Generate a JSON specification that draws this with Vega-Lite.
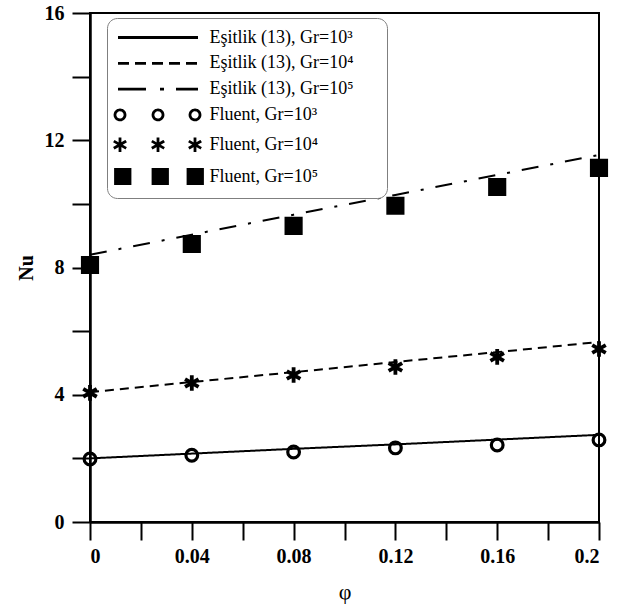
{
  "$schema": "https://vega.github.io/schema/vega-lite/v6.json",
  "width": 509,
  "height": 509,
  "autosize": {"type": "none"},
  "padding": {"left": 90, "top": 13, "right": 24, "bottom": 83},
  "background": "white",
  "config": {
    "view": {"stroke": "black", "strokeWidth": 2},
    "font": "Liberation Serif"
  },
  "datasets": {
    "lines": [
      {"phi": 0, "Nu": 2.0, "series": "Eşitlik (13), Gr=10³"},
      {"phi": 0.04, "Nu": 2.15, "series": "Eşitlik (13), Gr=10³"},
      {"phi": 0.08, "Nu": 2.3, "series": "Eşitlik (13), Gr=10³"},
      {"phi": 0.12, "Nu": 2.44, "series": "Eşitlik (13), Gr=10³"},
      {"phi": 0.16, "Nu": 2.59, "series": "Eşitlik (13), Gr=10³"},
      {"phi": 0.2, "Nu": 2.74, "series": "Eşitlik (13), Gr=10³"},
      {"phi": 0, "Nu": 4.08, "series": "Eşitlik (13), Gr=10⁴"},
      {"phi": 0.04, "Nu": 4.4, "series": "Eşitlik (13), Gr=10⁴"},
      {"phi": 0.08, "Nu": 4.71, "series": "Eşitlik (13), Gr=10⁴"},
      {"phi": 0.12, "Nu": 5.03, "series": "Eşitlik (13), Gr=10⁴"},
      {"phi": 0.16, "Nu": 5.34, "series": "Eşitlik (13), Gr=10⁴"},
      {"phi": 0.2, "Nu": 5.66, "series": "Eşitlik (13), Gr=10⁴"},
      {"phi": 0, "Nu": 8.4, "series": "Eşitlik (13), Gr=10⁵"},
      {"phi": 0.04, "Nu": 9.03, "series": "Eşitlik (13), Gr=10⁵"},
      {"phi": 0.08, "Nu": 9.66, "series": "Eşitlik (13), Gr=10⁵"},
      {"phi": 0.12, "Nu": 10.28, "series": "Eşitlik (13), Gr=10⁵"},
      {"phi": 0.16, "Nu": 10.91, "series": "Eşitlik (13), Gr=10⁵"},
      {"phi": 0.2, "Nu": 11.54, "series": "Eşitlik (13), Gr=10⁵"}
    ],
    "points": [
      {"phi": 0, "Nu": 1.98, "series": "Fluent, Gr=10³"},
      {"phi": 0.04, "Nu": 2.1, "series": "Fluent, Gr=10³"},
      {"phi": 0.08, "Nu": 2.2, "series": "Fluent, Gr=10³"},
      {"phi": 0.12, "Nu": 2.33, "series": "Fluent, Gr=10³"},
      {"phi": 0.16, "Nu": 2.42, "series": "Fluent, Gr=10³"},
      {"phi": 0.2, "Nu": 2.58, "series": "Fluent, Gr=10³"},
      {"phi": 0, "Nu": 4.06, "series": "Fluent, Gr=10⁴"},
      {"phi": 0.04, "Nu": 4.37, "series": "Fluent, Gr=10⁴"},
      {"phi": 0.08, "Nu": 4.62, "series": "Fluent, Gr=10⁴"},
      {"phi": 0.12, "Nu": 4.87, "series": "Fluent, Gr=10⁴"},
      {"phi": 0.16, "Nu": 5.19, "series": "Fluent, Gr=10⁴"},
      {"phi": 0.2, "Nu": 5.44, "series": "Fluent, Gr=10⁴"},
      {"phi": 0, "Nu": 8.08, "series": "Fluent, Gr=10⁵"},
      {"phi": 0.04, "Nu": 8.74, "series": "Fluent, Gr=10⁵"},
      {"phi": 0.08, "Nu": 9.31, "series": "Fluent, Gr=10⁵"},
      {"phi": 0.12, "Nu": 9.94, "series": "Fluent, Gr=10⁵"},
      {"phi": 0.16, "Nu": 10.53, "series": "Fluent, Gr=10⁵"},
      {"phi": 0.2, "Nu": 11.13, "series": "Fluent, Gr=10⁵"}
    ]
  },
  "encoding": {
    "x": {
      "field": "phi",
      "type": "quantitative",
      "scale": {"domain": [0, 0.2], "nice": false, "zero": false},
      "axis": {
        "title": "φ",
        "values": [0, 0.02, 0.04, 0.06, 0.08, 0.1, 0.12, 0.14, 0.16, 0.18, 0.2],
        "labelExpr": "round(datum.value*50) % 2 === 0 ? format(datum.value, '.2~f') : ''",
        "labelOverlap": false,
        "grid": false,
        "domainColor": "black",
        "domainWidth": 2.5,
        "tickColor": "black",
        "tickWidth": 2,
        "tickSize": 18,
        "labelFont": "Liberation Serif",
        "labelFontWeight": "bold",
        "labelFontSize": 20,
        "labelColor": "black",
        "labelPadding": 6,
        "titleFont": "Liberation Serif",
        "titleFontWeight": "normal",
        "titleFontSize": 22,
        "titleColor": "black",
        "titlePadding": 15,
        "encode": {
          "ticks": {
            "y2": {"condition": {"test": "round(datum.value*50) % 2 === 0", "value": 18}, "value": 9}
          }
        }
      }
    },
    "y": {
      "field": "Nu",
      "type": "quantitative",
      "scale": {"domain": [0, 16], "nice": false, "zero": false},
      "axis": {
        "title": "Nu",
        "values": [0, 2, 4, 6, 8, 10, 12, 14, 16],
        "labelExpr": "datum.value % 4 === 0 ? datum.label : ''",
        "labelOverlap": false,
        "grid": false,
        "domainColor": "black",
        "domainWidth": 2.5,
        "tickColor": "black",
        "tickWidth": 2,
        "tickSize": 18,
        "labelFont": "Liberation Serif",
        "labelFontWeight": "bold",
        "labelFontSize": 20,
        "labelColor": "black",
        "labelPadding": 8,
        "titleFont": "Liberation Serif",
        "titleFontWeight": "bold",
        "titleFontSize": 20,
        "titleColor": "black",
        "titlePadding": 8,
        "encode": {
          "ticks": {
            "x2": {"condition": {"test": "datum.value % 4 === 0", "value": -18}, "value": -9}
          }
        }
      }
    }
  },
  "resolve": {"scale": {"shape": "independent", "fill": "independent", "strokeDash": "independent"}},
  "layer": [
    {
      "data": {"name": "lines"},
      "mark": {"type": "line", "color": "black", "strokeWidth": 2},
      "encoding": {
        "strokeDash": {
          "field": "series",
          "type": "nominal",
          "scale": {
            "domain": ["Eşitlik (13), Gr=10³", "Eşitlik (13), Gr=10⁴", "Eşitlik (13), Gr=10⁵"],
            "range": [[1, 0], [9, 6], [17, 12, 3, 12]]
          },
          "legend": null
        }
      }
    },
    {
      "data": {"name": "points"},
      "mark": {"type": "point", "size": 169, "opacity": 1, "stroke": "black", "filled": false},
      "encoding": {
        "shape": {
          "field": "series",
          "type": "nominal",
          "scale": {
            "domain": ["Fluent, Gr=10³", "Fluent, Gr=10⁴", "Fluent, Gr=10⁵"],
            "range": [
              "M0.9,0A0.9,0.9 0 1,1 -0.9,0A0.9,0.9 0 1,1 0.9,0Z",
              "M0,-1.2L0,1.2M-1.04,-0.6L1.04,0.6M-1.04,0.6L1.04,-0.6",
              "M-1.15,-1.15H1.15V1.15H-1.15Z"
            ]
          },
          "legend": null
        },
        "fill": {
          "condition": {"test": "datum.series === 'Fluent, Gr=10³'", "value": "transparent"},
          "value": "black"
        },
        "strokeWidth": {
          "condition": {"test": "datum.series === 'Fluent, Gr=10⁴'", "value": 3.8},
          "value": 3.2
        }
      }
    },
    {
      "data": {"name": "points"},
      "mark": {"type": "point", "size": 400, "strokeWidth": 2.8, "opacity": 0, "stroke": "black", "filled": false},
      "encoding": {
        "shape": {
          "field": "series",
          "type": "nominal",
          "scale": {
            "domain": [
              "Eşitlik (13), Gr=10³", "Eşitlik (13), Gr=10⁴", "Eşitlik (13), Gr=10⁵",
              "Fluent, Gr=10³", "Fluent, Gr=10⁴", "Fluent, Gr=10⁵"
            ],
            "range": [
              "M-4,0H4", "M-4,0H4", "M-4,0H4",
              "M-3.3,0A0.5,0.5 0 1,1 -4.3,0A0.5,0.5 0 1,1 -3.3,0Z M0.5,0A0.5,0.5 0 1,1 -0.5,0A0.5,0.5 0 1,1 0.5,0Z M4.2,0A0.5,0.5 0 1,1 3.2,0A0.5,0.5 0 1,1 4.2,0Z",
              "M-3.8,-0.72L-3.8,0.72M-4.42,-0.36L-3.18,0.36M-4.42,0.36L-3.18,-0.36M0,-0.72L0,0.72M-0.62,-0.36L0.62,0.36M-0.62,0.36L0.62,-0.36M3.7,-0.72L3.7,0.72M3.08,-0.36L4.32,0.36M3.08,0.36L4.32,-0.36",
              "M-4.25,-0.72H-2.8V0.72H-4.25Z M-0.5,-0.72H0.95V0.72H-0.5Z M3.0,-0.72H4.45V0.72H3.0Z"
            ]
          },
          "legend": {
            "title": " ",
            "titleOrient": "right",
            "titlePadding": 26,
            "titleFontSize": 17,
            "orient": "none",
            "legendX": 17,
            "legendY": 5,
            "padding": 8,
            "cornerRadius": 10,
            "strokeColor": "#7f7f7f",
            "fillColor": "white",
            "symbolSize": 400,
            "symbolStrokeWidth": 2.8,
            "symbolOpacity": 1,
            "symbolOffset": 31.5,
            "labelOffset": 40,
            "rowPadding": 4.8,
            "labelFont": "Liberation Serif",
            "labelFontSize": 18,
            "labelColor": "black",
            "labelLimit": 400
          }
        },
        "fill": {
          "field": "series",
          "type": "nominal",
          "scale": {
            "domain": [
              "Eşitlik (13), Gr=10³", "Eşitlik (13), Gr=10⁴", "Eşitlik (13), Gr=10⁵",
              "Fluent, Gr=10³", "Fluent, Gr=10⁴", "Fluent, Gr=10⁵"
            ],
            "range": ["transparent", "transparent", "transparent", "transparent", "transparent", "black"]
          }
        },
        "strokeDash": {
          "field": "series",
          "type": "nominal",
          "scale": {
            "domain": [
              "Eşitlik (13), Gr=10³", "Eşitlik (13), Gr=10⁴", "Eşitlik (13), Gr=10⁵",
              "Fluent, Gr=10³", "Fluent, Gr=10⁴", "Fluent, Gr=10⁵"
            ],
            "range": [[1, 0], [11, 6], [28, 14, 4, 12], [1, 0], [1, 0], [1, 0]]
          }
        }
      }
    }
  ]
}
